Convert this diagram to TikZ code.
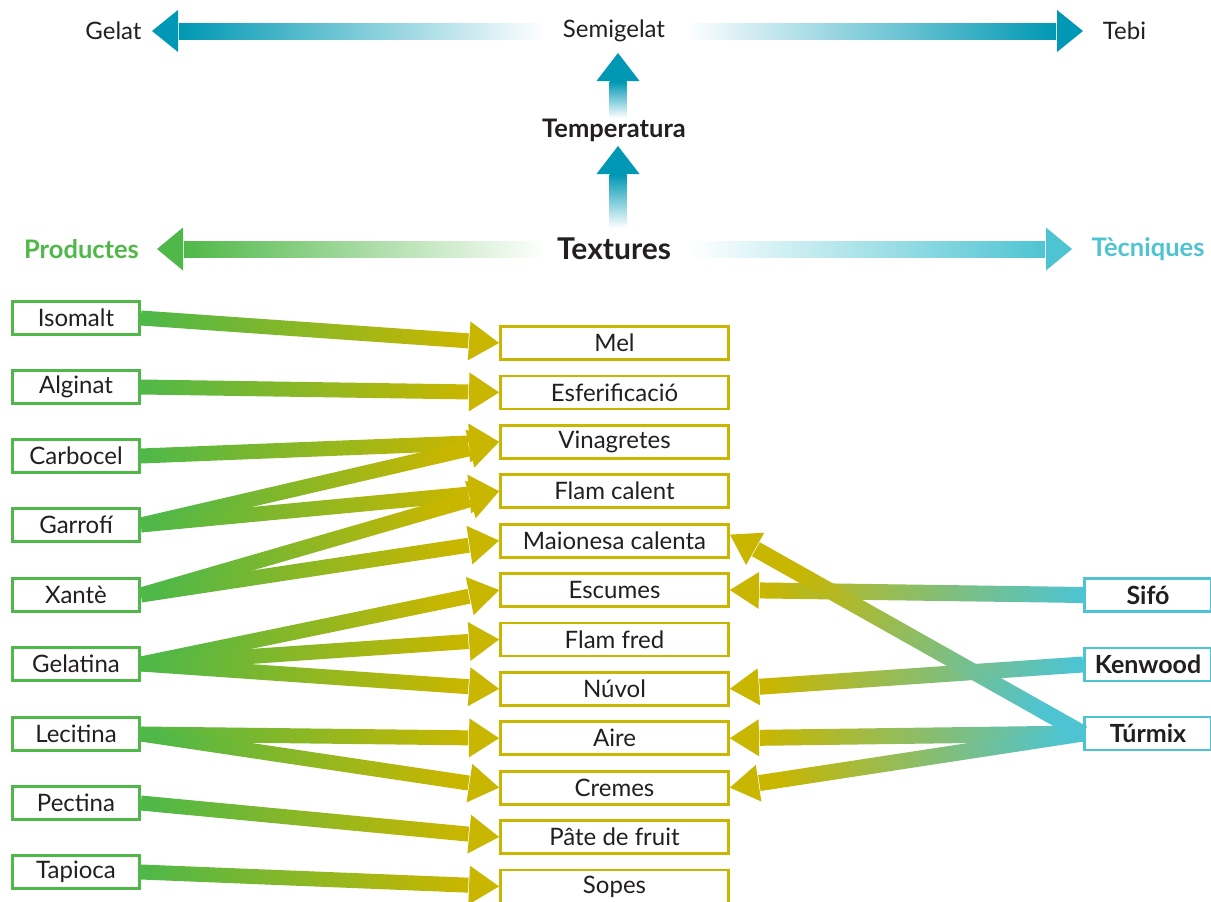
\documentclass[tikz,border=0pt]{standalone}
\usepackage{fontspec}
\setmainfont{Lato}
\usetikzlibrary{calc}
\definecolor{pgreen}{RGB}{80,184,72}
\definecolor{olive}{RGB}{200,182,0}
\definecolor{tcyan}{RGB}{78,196,210}
\definecolor{tealc}{RGB}{0,152,180}
\definecolor{ink}{RGB}{35,31,32}
% #1 tail, #2 tip, #3 tail colour, #4 tip colour, #5 shaft half width, #6 head half width, #7 head length
\newcommand\fatarr[7]{%
  \coordinate (faA) at (#1);
  \coordinate (faB) at (#2);
  \coordinate (faH) at ($(faB)!#7!(faA)$);
  \coordinate (faK) at ($(faB)!#7+0.8pt!(faA)$);
  \path (faA); \pgfgetlastxy{\fax}{\fay}%
  \path (faB); \pgfgetlastxy{\fbx}{\fby}%
  \pgfmathsetmacro\fasang{atan2(\fby-\fay,\fbx-\fax)+90}%
  \shade[left color=#3,right color=#4,shading angle=\fasang]
    ($(faA)!#5!90:(faB)$) -- ($(faK)!#5!-90:(faA)$) -- ($(faK)!#5!90:(faA)$) -- ($(faA)!#5!-90:(faB)$) -- cycle;
  \fill[#4] ($(faH)!#6!90:(faB)$) -- (faB) -- ($(faH)!#6!-90:(faB)$) -- cycle;
}
\begin{document}
\begin{tikzpicture}[x=1pt,y=-1pt,
  every node/.style={text=ink},
  lbox/.style={draw=pgreen,line width=2.8pt,fill=white,minimum width=127pt,minimum height=33pt,inner sep=0pt,font=\fontsize{24}{28}\selectfont},
  mbox/.style={lbox,draw=olive,minimum width=228pt},
  rbox/.style={lbox,draw=tcyan,font=\fontsize{25}{28}\selectfont\bfseries},
  toplab/.style={font=\fontsize{24}{28}\selectfont},
  headlab/.style={font=\fontsize{25.5}{28}\selectfont\bfseries},
]
\useasboundingbox (0,0) rectangle (1211,902);
\fill[white] (0,0) rectangle (1211,902);

% ---- top labels
\node[toplab] (gelat) at (113.5,31) {Gelat};
\node[toplab] (semi) at (614,31) {Semigelat};
\node[toplab] (tebi) at (1124.5,31) {Tebi};
\node[headlab] (temp) at (614,130) {Temperatura};
\node[font=\fontsize{30}{32}\selectfont\bfseries] (tex) at (614,249) {Textures};
\node[headlab,text=pgreen] (prod) at (81.5,249) {Productes};
\node[headlab,text=tcyan] (tec) at (1148,249) {Tècniques};

\coordinate (gA) at (545,31);  \coordinate (gB) at (152,31);
\coordinate (tA) at (685,31);  \coordinate (tB) at (1083,31);
\coordinate (v1A) at (618,118); \coordinate (v1B) at (618,53);
\coordinate (v2A) at (618,228); \coordinate (v2B) at (618,146);
\coordinate (pA) at (545,249); \coordinate (pB) at (157,249);
\coordinate (cA) at (690,249); \coordinate (cB) at (1072,249);

\fatarr{gA}{gB}{white}{tealc}{8pt}{21pt}{26pt}
\fatarr{tA}{tB}{white}{tealc}{8pt}{21pt}{26pt}
\fatarr{v1A}{v1B}{white}{tealc}{8.5pt}{21.5pt}{28pt}
\fatarr{v2A}{v2B}{white}{tealc}{8.5pt}{21.5pt}{28pt}
\fatarr{pA}{pB}{white}{pgreen}{8pt}{21.5pt}{26pt}
\fatarr{cA}{cB}{white}{tcyan}{8pt}{21.5pt}{26pt}

% ---- product boxes
\node[lbox] (iso) at (76,318) {Isomalt};
\node[lbox] (alg) at (76,387) {Alginat};
\node[lbox] (car) at (76,456) {Carbocel};
\node[lbox] (gar) at (76,525) {Garrofí};
\node[lbox] (xan) at (76,595) {Xantè};
\node[lbox] (gel) at (76,664) {Gelatina};
\node[lbox] (lec) at (76,734) {Lecitina};
\node[lbox] (pec) at (76,803) {Pectina};
\node[lbox] (tap) at (76,872) {Tapioca};

% ---- texture boxes
\node[mbox] (mel) at (614.5,343) {Mel};
\node[mbox] (esf) at (614.5,392.4) {Esferificació};
\node[mbox] (vin) at (614.5,441.8) {Vinagretes};
\node[mbox] (flc) at (614.5,491.2) {Flam calent};
\node[mbox] (mai) at (614.5,540.6) {Maionesa calenta};
\node[mbox] (esc) at (614.5,590) {Escumes};
\node[mbox] (flf) at (614.5,639.4) {Flam fred};
\node[mbox] (nuv) at (614.5,688.8) {Núvol};
\node[mbox] (air) at (614.5,738.2) {Aire};
\node[mbox] (cre) at (614.5,787.6) {Cremes};
\node[mbox] (pat) at (614.5,837) {Pâte de fruit};
\node[mbox] (sop) at (614.5,886.4) {Sopes};

% ---- technique boxes
\node[rbox] (sif) at (1148,595) {Sifó};
\node[rbox] (ken) at (1148,664.5) {Kenwood};
\node[rbox] (tur) at (1148,733.5) {Túrmix};

% ---- product arrows
\foreach \a/\b in {iso/mel, alg/esf, car/vin, gar/vin, gar/flc, xan/flc, xan/mai,
                   gel/esc, gel/flf, gel/nuv, lec/air, lec/cre, pec/pat, tap/sop}{
  \fatarr{\a.east}{\b.west}{pgreen}{olive}{7.5pt}{19.5pt}{30pt}
}
% ---- technique arrows
\fatarr{sif.west}{esc.east}{tcyan}{olive}{8pt}{18.5pt}{29pt}
\fatarr{ken.west}{nuv.east}{tcyan}{olive}{8pt}{18.5pt}{29pt}
\fatarr{tur.west}{air.east}{tcyan}{olive}{8pt}{18.5pt}{29pt}
\fatarr{tur.west}{cre.east}{tcyan}{olive}{8pt}{18.5pt}{29pt}
\coordinate (maiT) at ($(mai.east)+(0,-6)$);
\fatarr{tur.west}{maiT}{tcyan}{olive}{8pt}{18.5pt}{29pt}
\end{tikzpicture}
\end{document}
